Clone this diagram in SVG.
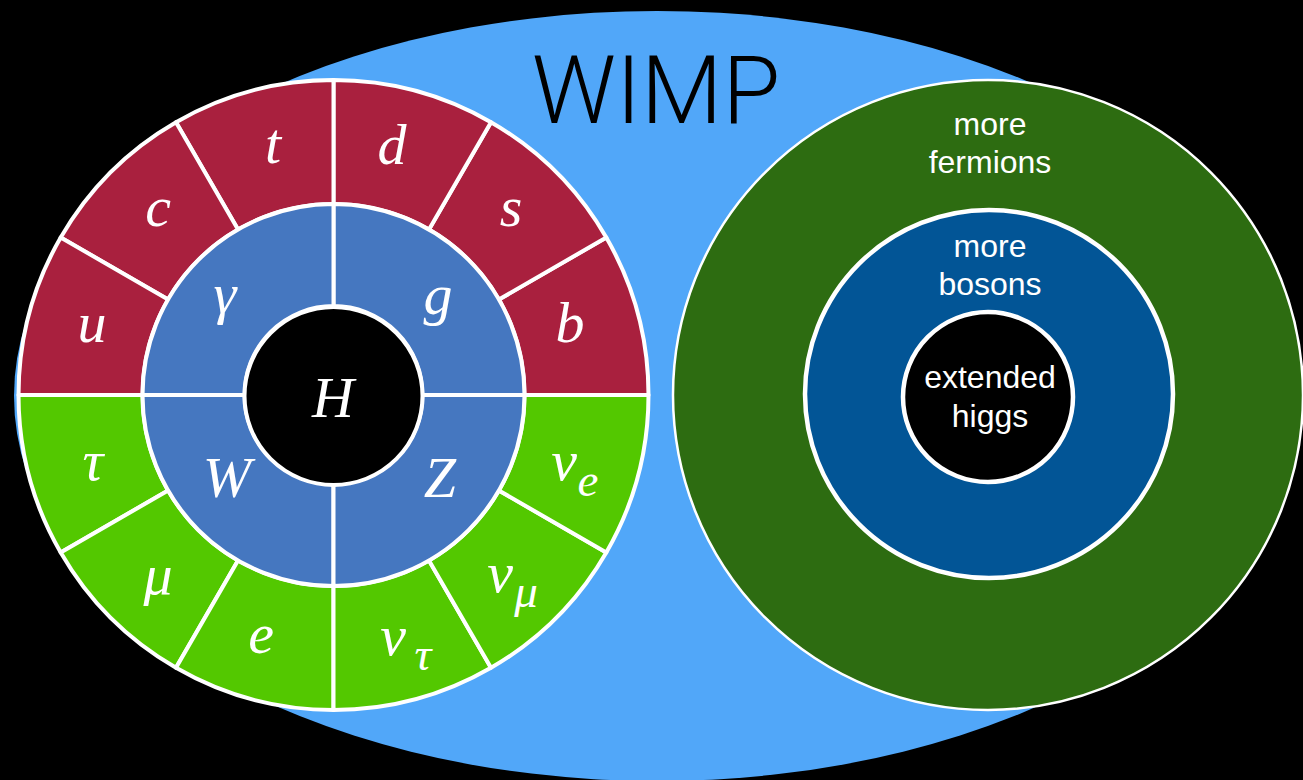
<svg xmlns="http://www.w3.org/2000/svg" width="1303" height="780" viewBox="0 0 1303 780">
  <style>
    .sec { stroke: #ffffff; stroke-width: 4; stroke-linejoin: round; }
    .quark { fill: #A9203E; }
    .lepton { fill: #53C800; }
    .boson { fill: #4577C0; }
    .sym { font-family: "Liberation Serif", "DejaVu Serif", serif; font-style: italic; font-size: 58px; fill: #ffffff; text-anchor: middle; }
    .sub { font-size: 47px; }
    .lbl { font-family: "Liberation Sans", Arial, sans-serif; font-size: 32px; fill: #ffffff; text-anchor: middle; }
  </style>

  <!-- background -->
  <rect x="0" y="0" width="1303" height="780" fill="#000000"/>

  <!-- outer WIMP region -->
  <g id="wimp">
    <ellipse cx="657" cy="396" rx="643" ry="385" fill="#51A7F9"/>
    <text x="656" y="123" font-family="Roboto, 'Liberation Sans', sans-serif" font-weight="300" font-size="94" fill="#000000" text-anchor="middle">WIMP</text>
  </g>

  <!-- Standard Model wheel: quarks (top), leptons (bottom), gauge bosons, Higgs -->
  <g id="standard-model">
    <g id="quark-b"><path class="sec quark" d="M648.5,395 A315,315 0 0 0 606.3,237.5 L498.9,299.5 A191,191 0 0 1 524.5,395 Z"/><text class="sym" x="570" y="342">b</text></g>
    <g id="quark-s"><path class="sec quark" d="M606.3,237.5 A315,315 0 0 0 491,122.2 L429,229.6 A191,191 0 0 1 498.9,299.5 Z"/><text class="sym" x="511" y="226">s</text></g>
    <g id="quark-d"><path class="sec quark" d="M491,122.2 A315,315 0 0 0 333.5,80 L333.5,204 A191,191 0 0 1 429,229.6 Z"/><text class="sym" x="392" y="164">d</text></g>
    <g id="quark-t"><path class="sec quark" d="M333.5,80 A315,315 0 0 0 176,122.2 L238,229.6 A191,191 0 0 1 333.5,204 Z"/><text class="sym" x="273" y="163">t</text></g>
    <g id="quark-c"><path class="sec quark" d="M176,122.2 A315,315 0 0 0 60.7,237.5 L168.1,299.5 A191,191 0 0 1 238,229.6 Z"/><text class="sym" x="158" y="226">c</text></g>
    <g id="quark-u"><path class="sec quark" d="M60.7,237.5 A315,315 0 0 0 18.5,395 L142.5,395 A191,191 0 0 1 168.1,299.5 Z"/><text class="sym" x="92" y="342">u</text></g>

    <g id="lepton-tau"><path class="sec lepton" d="M18.5,395 A315,315 0 0 0 60.7,552.5 L168.1,490.5 A191,191 0 0 1 142.5,395 Z"/><text class="sym" x="93" y="480">τ</text></g>
    <g id="lepton-mu"><path class="sec lepton" d="M60.7,552.5 A315,315 0 0 0 176,667.8 L238,560.4 A191,191 0 0 1 168.1,490.5 Z"/><text class="sym" x="158" y="594">μ</text></g>
    <g id="lepton-e"><path class="sec lepton" d="M176,667.8 A315,315 0 0 0 333.5,710 L333.5,586 A191,191 0 0 1 238,560.4 Z"/><text class="sym" x="261" y="653">e</text></g>
    <g id="lepton-nu-tau"><path class="sec lepton" d="M333.5,710 A315,315 0 0 0 491,667.8 L429,560.4 A191,191 0 0 1 333.5,586 Z"/><text class="sym" x="393" y="655">ν<tspan class="sub" x="423" y="670">τ</tspan></text></g>
    <g id="lepton-nu-mu"><path class="sec lepton" d="M491,667.8 A315,315 0 0 0 606.3,552.5 L498.9,490.5 A191,191 0 0 1 429,560.4 Z"/><text class="sym" x="500" y="592">ν<tspan class="sub" x="526" y="607">μ</tspan></text></g>
    <g id="lepton-nu-e"><path class="sec lepton" d="M606.3,552.5 A315,315 0 0 0 648.5,395 L524.5,395 A191,191 0 0 1 498.9,490.5 Z"/><text class="sym" x="564" y="480">ν<tspan class="sub" x="588" y="496">e</tspan></text></g>

    <g id="boson-g"><path class="sec boson" d="M524.5,395 A191,191 0 0 0 333.5,204 L333.5,306 A89,89 0 0 1 422.5,395 Z"/><text class="sym" x="438" y="314">g</text></g>
    <g id="boson-gamma"><path class="sec boson" d="M333.5,204 A191,191 0 0 0 142.5,395 L244.5,395 A89,89 0 0 1 333.5,306 Z"/><text class="sym" x="225" y="313">γ</text></g>
    <g id="boson-w"><path class="sec boson" d="M142.5,395 A191,191 0 0 0 333.5,586 L333.5,484 A89,89 0 0 1 244.5,395 Z"/><text class="sym" x="227" y="497">W</text></g>
    <g id="boson-z"><path class="sec boson" d="M333.5,586 A191,191 0 0 0 524.5,395 L422.5,395 A89,89 0 0 1 333.5,484 Z"/><text class="sym" x="440" y="497">Z</text></g>

    <g id="higgs"><circle class="sec" cx="333.5" cy="396" r="89" fill="#000000"/><text class="sym" x="333" y="417">H</text></g>
  </g>

  <!-- beyond the Standard Model: nested rings -->
  <g id="more-fermions">
    <circle cx="988" cy="395" r="315" fill="#2D6C11" stroke="#ffffff" stroke-width="2.5"/>
    <text class="lbl" x="990" y="135">more</text>
    <text class="lbl" x="990" y="173">fermions</text>
  </g>
  <g id="more-bosons">
    <circle cx="989" cy="394" r="184" fill="#025596" stroke="#ffffff" stroke-width="4.5"/>
    <text class="lbl" x="990" y="257">more</text>
    <text class="lbl" x="990" y="295">bosons</text>
  </g>
  <g id="extended-higgs">
    <circle cx="988" cy="397" r="85" fill="#000000" stroke="#ffffff" stroke-width="4.5"/>
    <text class="lbl" x="990" y="388">extended</text>
    <text class="lbl" x="990" y="427">higgs</text>
  </g>
</svg>
